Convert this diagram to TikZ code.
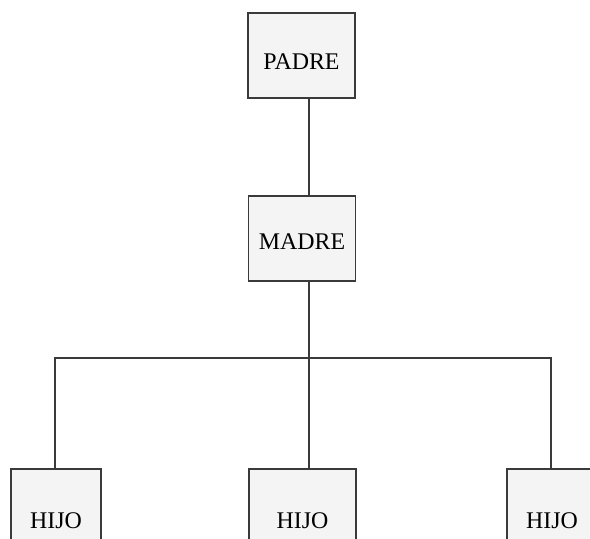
\documentclass[tikz,border=0pt]{standalone}
\usepackage{fontspec}
\setmainfont{Liberation Serif}
\usetikzlibrary{positioning}
\definecolor{boxfill}{HTML}{F4F4F4}
\definecolor{inkgray}{HTML}{3A3A3A}
\tikzset{
    kinbox/.style={draw=inkgray, line width=1.4pt, fill=boxfill, align=center, font=\fontsize{20.4}{24}\selectfont, minimum width=3.21cm, minimum height=2.55cm, inner sep=0pt},
    kinnarrow/.style={kinbox, minimum width=2.7cm},
    textdrop/.style={text height=#1, text depth=0pt},
    kinline/.style={draw=inkgray, line width=1.2pt}
}
\begin{document}
\begin{tikzpicture}[x=0.03cm, y=-0.03cm]
    \useasboundingbox (0,0) rectangle (590,539);

    \node[kinbox, textdrop=23.7pt] (padre) at (301.5,55.5) {PADRE};
    \node[kinbox, textdrop=18.7pt] (madre) at (302,238.5) {MADRE};
    \node[kinnarrow, textdrop=28.9pt] (hijoA) at (56,511.5) {HIJO};
    \node[kinbox, textdrop=28.9pt] (hijoB) at (302.5,511.5) {HIJO};
    \node[kinnarrow, textdrop=28.9pt] (hijoC) at (552,511.5) {HIJO};

    % junction of the children's bar
    \coordinate (trunk) at (309,358);
    \coordinate (leftend) at (55,358);
    \coordinate (rightend) at (551,358);

    \draw[kinline] (padre.south -| trunk) -- (madre.north -| trunk);
    \draw[kinline] (madre.south -| trunk) -- (hijoB.north -| trunk);
    \draw[kinline] (hijoA.north -| leftend) -- (leftend) -- (rightend) -- (hijoC.north -| rightend);
\end{tikzpicture}
\end{document}
